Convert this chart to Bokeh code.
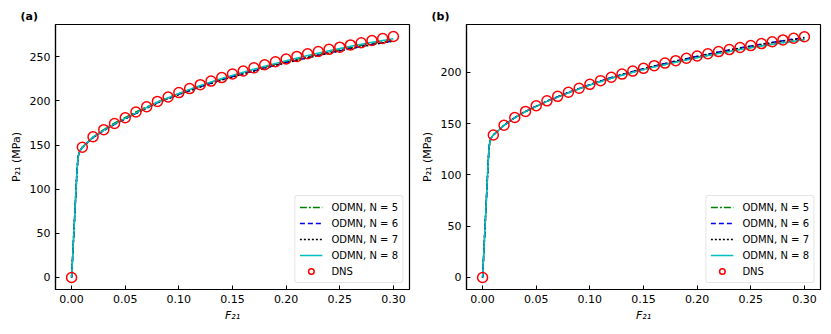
from bokeh.plotting import figure
from bokeh.layouts import row
from bokeh.models import FixedTicker, Legend, LegendItem, NumeralTickFormatter
from bokeh.embed import file_html
from bokeh.resources import INLINE

# ---------------- data ----------------
X_DNS = [0.00, 0.01, 0.02, 0.03, 0.04, 0.05, 0.06, 0.07, 0.08, 0.09, 0.10,
         0.11, 0.12, 0.13, 0.14, 0.15, 0.16, 0.17, 0.18, 0.19, 0.20,
         0.21, 0.22, 0.23, 0.24, 0.25, 0.26, 0.27, 0.28, 0.29, 0.30]

DNS_A = [0, 147.5, 159.5, 167.5, 174.5, 181, 187.5, 193.5, 199.5, 204.5, 209.5,
         214, 218.5, 222.5, 226.5, 230.5, 234, 237.5, 241, 244.5, 247.5,
         250.5, 253.5, 256, 258.5, 261, 263.5, 266, 268.5, 270.8, 273]

DNS_B = [0, 139, 148.5, 156, 162, 167.5, 172.3, 176.7, 180.7, 184.6, 188.4,
         192, 195.3, 198.4, 201.3, 204, 206.6, 209.1, 211.5, 213.8, 216,
         218.2, 220.3, 222.3, 224.3, 226.2, 228.1, 229.9, 231.7, 233.3, 234.8]

X_LINE = [0, 0.002, 0.004, 0.005, 0.006, 0.007, 0.008, 0.01, 0.02, 0.03, 0.04,
          0.06, 0.08, 0.10, 0.12, 0.14, 0.16, 0.18, 0.20, 0.22, 0.24, 0.26, 0.28, 0.30]

A_N5 = [0, 48, 96, 120, 136, 141, 144, 147.5, 159, 167.5, 175, 187.5, 199, 208.5,
        217, 225, 232, 238.5, 244.5, 250, 255.5, 260.5, 265, 269]
A_N6 = [0, 48, 96, 120, 136, 141, 144, 147.5, 158.5, 166.5, 173.5, 186, 198, 207.5,
        216, 224, 231, 237.5, 243.5, 249, 254.5, 259.5, 264, 268]
A_N7 = [0, 48, 96, 120, 136, 141, 144, 147.5, 158.5, 166.5, 173.5, 186, 197.8, 207.3,
        215.8, 223.7, 230.7, 237.2, 243.2, 248.8, 254.2, 259.2, 263.7, 267.8]
A_N8 = [0, 48, 96, 120, 136, 141, 144, 147.5, 159, 167, 174, 186.5, 198.5, 208.5,
        217.5, 225.5, 232.5, 239.5, 245.5, 251.5, 257, 262, 266.5, 270.5]

B_N5 = [0, 43, 86, 108, 127, 133, 136, 139, 148.3, 155.8, 161.8, 171.8, 180.2, 187.8,
        194.4, 200.3, 205.5, 210.2, 214.6, 218.7, 222.5, 226, 229.2, 232.2]
B_N6 = [0, 43, 86, 108, 127, 133, 136, 139, 148.5, 156, 162, 172, 180.5, 188.2,
        195, 201, 206.3, 211.2, 215.7, 220, 224, 227.6, 231, 234]
B_N7 = [0, 43, 86, 108, 127, 133, 136, 139, 148.5, 156, 162, 172, 180.4, 188.1,
        194.9, 200.9, 206.2, 211, 215.5, 219.8, 223.7, 227.3, 230.7, 233.7]
B_N8 = [0, 43, 86, 108, 127, 133, 136, 139, 148.3, 155.8, 161.8, 171.8, 180.1, 187.7,
        194.3, 200.1, 205.3, 210, 214.4, 218.5, 222.3, 225.8, 229, 231.8]

X_TICKS = [0.0, 0.05, 0.10, 0.15, 0.20, 0.25, 0.30]
Y_TICKS_A = [0, 50, 100, 150, 200, 250]
Y_TICKS_B = [0, 50, 100, 150, 200]

LABELS = ["ODMN, N = 5", "ODMN, N = 6", "ODMN, N = 7", "ODMN, N = 8", "DNS"]

FONT = "DejaVu Sans"


def make_panel(tag, series, dns, yticks, ymax, width, bl, br, title_left):
    pad = 0.05 * ymax
    p = figure(width=width, height=326, output_backend="svg", toolbar_location=None,
               x_range=(-0.015, 0.315), y_range=(-pad, ymax + pad),
               min_border_left=bl, min_border_right=br,
               min_border_top=24, min_border_bottom=37,
               title=tag)
    p.title.text_font = FONT
    p.title.text_font_size = "11px"
    p.title.text_font_style = "bold"
    p.title.text_color = "black"
    p.title.align = "left"
    p.title.offset = -(bl - title_left)
    p.title.standoff = 4
    p.grid.visible = False
    p.outline_line_color = "black"
    p.outline_line_width = 1.2
    p.outline_line_alpha = 1.0

    styles = [("#008000", "7 2 2 2"), ("#0000ff", "5 3"), ("black", "2 2"), ("#00bfbf", "solid")]
    renderers = []
    for ys, (c, d) in zip(series, styles):
        r = p.line(X_LINE, ys, line_color=c, line_dash=d, line_width=1.5)
        renderers.append(r)
    rd = p.scatter(X_DNS, dns, marker="circle", size=10, fill_color=None,
                   line_color="red", line_width=1.5)
    renderers.append(rd)

    for ax in (p.xaxis[0], p.yaxis[0]):
        ax.axis_line_color = "black"
        ax.axis_line_width = 1.2
        ax.major_tick_in = 4
        ax.major_tick_out = 0
        ax.major_tick_line_color = "black"
        ax.minor_tick_line_color = None
        ax.major_label_text_font = FONT
        ax.major_label_text_font_size = "11px"
        ax.major_label_text_color = "black"
        ax.axis_label_text_font = FONT
        ax.axis_label_text_font_size = "11px"
        ax.axis_label_text_color = "black"
        ax.major_label_standoff = 5

    p.xaxis.ticker = FixedTicker(ticks=X_TICKS)
    p.xaxis.formatter = NumeralTickFormatter(format="0.00")
    p.xaxis.axis_label = "F₂₁"
    p.xaxis.axis_label_text_font_style = "italic"
    p.xaxis.axis_label_standoff = 3
    p.yaxis.ticker = FixedTicker(ticks=yticks)
    p.yaxis.axis_label = "P₂₁ (MPa)"
    p.yaxis.axis_label_text_font_style = "normal"
    p.yaxis.axis_label_standoff = 4

    items = [LegendItem(label=l, renderers=[r]) for l, r in zip(LABELS, renderers)]
    leg = Legend(items=items, location="bottom_right")
    leg.label_text_font = FONT
    leg.label_text_font_size = "10px"
    leg.label_text_color = "black"
    leg.glyph_width = 23
    leg.glyph_height = 14
    leg.label_height = 14
    leg.label_standoff = 9
    leg.spacing = 2
    leg.padding = 4
    leg.margin = 6
    leg.border_line_color = "#cccccc"
    leg.border_line_width = 1
    leg.border_radius = 3
    leg.background_fill_color = "white"
    leg.background_fill_alpha = 0.8
    p.add_layout(leg)
    return p


pa = make_panel("(a)", [A_N5, A_N6, A_N7, A_N8], DNS_A, Y_TICKS_A, 273, 415, 55, 6, 20)
pb = make_panel("(b)", [B_N5, B_N6, B_N7, B_N8], DNS_B, Y_TICKS_B, 235, 408, 51, 3, 16)

layout = row(pa, pb)
open("out.html", "w").write(file_html(layout, INLINE))
